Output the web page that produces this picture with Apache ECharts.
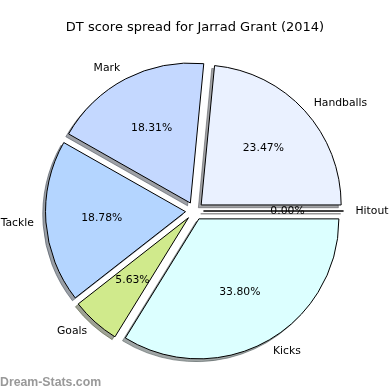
<!DOCTYPE html>
<html><head><meta charset="utf-8">
<script src="https://cdn.jsdelivr.net/npm/echarts@6/dist/echarts.min.js"></script>
<style>html,body{margin:0;padding:0;background:#fff}#c{width:390px;height:390px}</style>
</head><body><div id="c"></div>
<script>
const chartTitle = 'DT score spread for Jarrad Grant (2014)';
const watermark = 'Dream-Stats.com';
const categories = ['Hitout', 'Handballs', 'Mark', 'Tackle', 'Goals', 'Kicks'];
const points = [0, 50, 39, 40, 12, 72];
const colors = ['#ffffff', '#eaf1ff', '#c4d8ff', '#b4d5ff', '#d0ea8c', '#dcffff'];

const total = points.reduce((a, b) => a + b, 0);
function shadowOf(hex) {
  const n = parseInt(hex.slice(1), 16);
  const r = (n >> 16) & 255, g = (n >> 8) & 255, b = n & 255;
  return 'rgba(' + Math.round(r * 0.3) + ',' + Math.round(g * 0.3) + ',' + Math.round(b * 0.3) + ',0.5)';
}
const CX = 194.5, CY = 211, R = 140, OFF = 9, SH = 2.8;
const FONT = 'DejaVu Sans';
const FS = 10.8;

function items(styleFn) {
  return categories.map((name, i) => ({
    name: name, value: points[i], selected: true,
    itemStyle: styleFn(i), select: { itemStyle: styleFn(i) }
  }));
}
const base = {
  type: 'pie', startAngle: 0, clockwise: false, selectedMode: 'multiple',
  selectedOffset: OFF, avoidLabelOverlap: false, silent: true, animation: false,
  minAngle: 0, emphasis: { disabled: true }, labelLine: { show: false, length: 0, length2: 0 }
};
const transparent = () => ({ color: 'rgba(0,0,0,0)', borderWidth: 0 });

const option = {
  animation: false,
  title: [
    { text: chartTitle, left: 'center', top: 16, textStyle: { fontFamily: FONT, fontSize: 13, fontWeight: 'normal', color: '#000' } },
    { text: watermark, left: -5, top: 372, textStyle: { fontFamily: 'Liberation Sans', fontSize: 12.3, fontWeight: 'bold', color: '#999999' } }
  ],
  series: [
    Object.assign({}, base, {
      center: [CX - SH, CY + SH], radius: R, label: { show: false },
      data: items(i => ({ color: shadowOf(colors[i]), borderColor: shadowOf(colors[i]), borderWidth: 1 }))
    }),
    Object.assign({}, base, {
      center: [CX, CY], radius: R, label: { show: false },
      data: items(i => ({ color: colors[i], borderColor: '#000', borderWidth: 1 }))
    }),
    Object.assign({}, base, {
      center: [CX, CY], radius: 152,
      label: { show: true, position: 'outside', distanceToLabelLine: 0, fontFamily: FONT, fontSize: FS, color: '#000', formatter: '{b}' },
      data: items(transparent)
    }),
    Object.assign({}, base, {
      center: [CX, CY], radius: [R * 0.6 - 4, R * 0.6 - 2],
      label: { show: true, position: 'inside', fontFamily: FONT, fontSize: FS, color: '#000',
        formatter: p => (p.value / total * 100).toFixed(2) + '%' },
      data: items(transparent)
    })
  ]
};
const chart = echarts.init(document.getElementById('c'), null, { renderer: 'canvas' });
chart.setOption(option);
</script></body></html>
